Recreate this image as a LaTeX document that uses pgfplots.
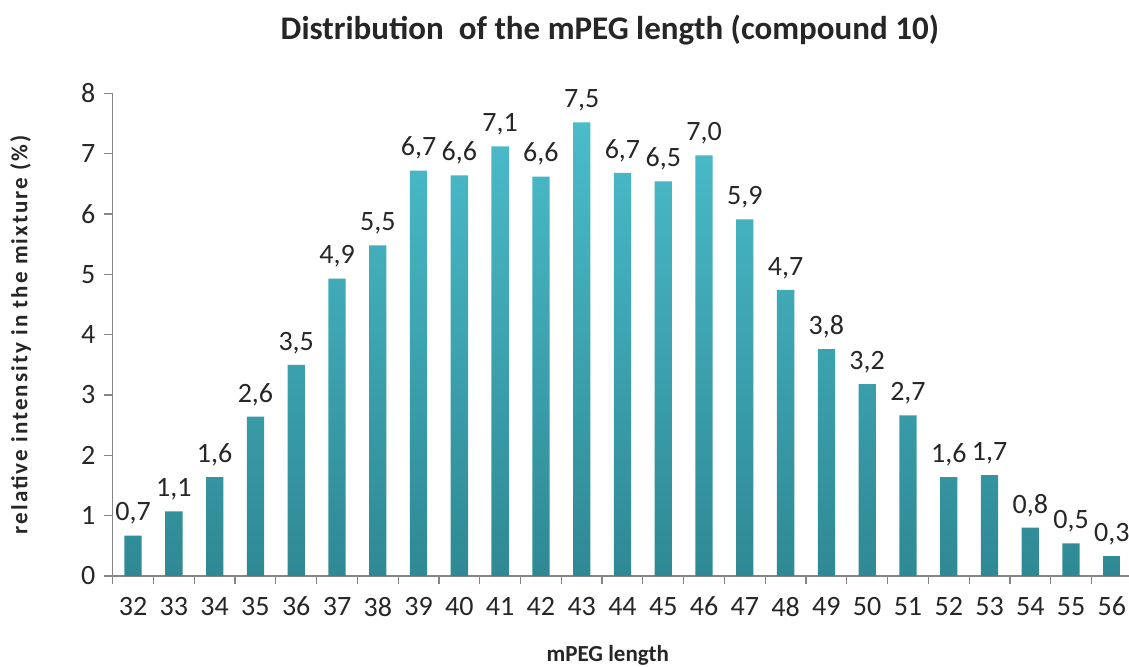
\documentclass[border=0pt]{standalone}
\usepackage{fontspec}
\setmainfont{Carlito}
\usepackage{pgfplots}
\pgfplotsset{compat=1.18}
\definecolor{barTop}{HTML}{4BBCCA}
\definecolor{barBot}{HTML}{2E8994}
\definecolor{axisGray}{HTML}{868686}
\definecolor{txt}{HTML}{262626}
\begin{document}
\begin{tikzpicture}
\begin{axis}[
  scale only axis, width=508.15pt, height=241.35pt,
  xmin=31.5, xmax=56.42, ymin=0, ymax=8,
  axis x line*=bottom, axis y line*=left,
  axis line style={axisGray, line width=0.6pt},
  tick style={axisGray, line width=0.6pt},
  tick align=outside, major tick length=4.2pt,
  xtick={31.5,32.5,...,55.5}, xticklabels={},
  extra x ticks={32,33,...,56},
  extra x tick style={major tick length=0pt},
  ytick={0,1,...,8},
  /pgf/number format/assume math mode=true,
  ticklabel style={font=\fontsize{14}{16}\selectfont, text=txt},
  xticklabel style={yshift=-7pt},
  yticklabel style={xshift=-1pt},
  every axis x label/.style={at={(axis cs:43.64,0)}, yshift=-39.5pt, anchor=center},
  every axis y label/.style={at={(axis description cs:0,0.5)}, xshift=-46pt, rotate=90, anchor=center},
  xlabel={mPEG length},
  ylabel={relative intensity in the mixture (\%)},
  xlabel style={font=\bfseries\fontsize{11.5}{13}\selectfont, text=txt},
  ylabel style={font=\bfseries\fontsize{11.5}{13}\selectfont\addfontfeature{LetterSpace=9}, text=txt},
  title style={at={(axis cs:43.69,8)}, yshift=25.5pt, anchor=center, font=\bfseries\fontsize{16.5}{19}\selectfont, text=txt},
  title={Distribution\ \ of the mPEG length (compound 10)},
  nodes near coords={\pgfmathprintnumber[fixed,fixed zerofill,precision=1,use comma]{\pgfplotspointmeta}},
  every node near coord/.append style={font=\fontsize{14}{16}\selectfont, text=txt, yshift=2pt},
  clip=false,
]
\addplot[ybar, bar width=8.65pt, draw=none, top color=barTop, bottom color=barBot] coordinates {
(32,0.67) (33,1.07) (34,1.64) (35,2.64) (36,3.50) (37,4.93) (38,5.48)
(39,6.72) (40,6.64) (41,7.12) (42,6.62) (43,7.52) (44,6.68) (45,6.54)
(46,6.97) (47,5.91) (48,4.74) (49,3.76) (50,3.18) (51,2.66) (52,1.64)
(53,1.67) (54,0.80) (55,0.54) (56,0.33)};
\end{axis}
\pgfresetboundingbox
\useasboundingbox (-56.35pt,-45.5pt) rectangle (508.15pt,288pt);
\end{tikzpicture}
\end{document}
